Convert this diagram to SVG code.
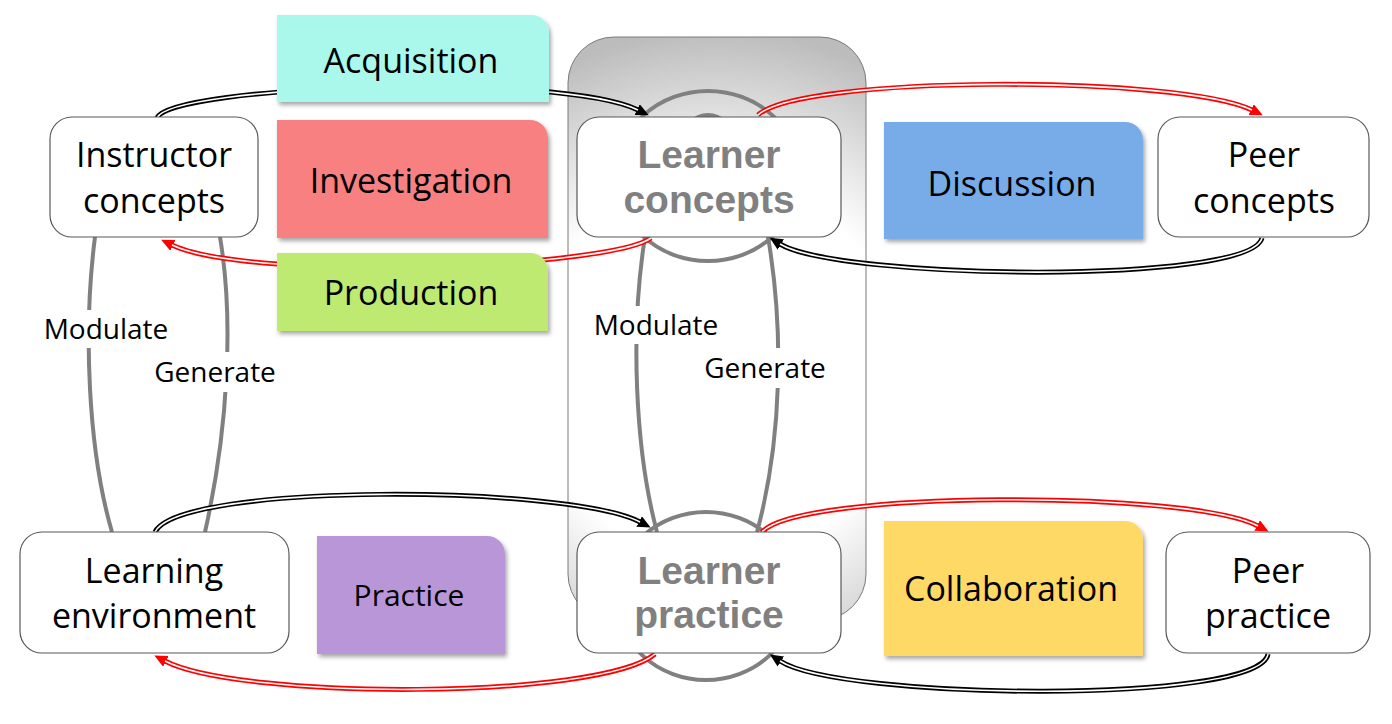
<svg xmlns="http://www.w3.org/2000/svg" width="1392" height="724" viewBox="0 0 1392 724">
<style>
.node rect{fill:#fff;stroke:#595959;stroke-width:1.2}
.t{font-family:"Open Sans","Noto Sans",sans-serif;font-size:34px;fill:#000;text-anchor:middle}
.tb{font-family:"Liberation Sans",Arial,sans-serif;font-size:39px;font-weight:bold;fill:#808080;text-anchor:middle}
.lab{font-family:"Open Sans","Noto Sans",sans-serif;font-size:28px;fill:#000;text-anchor:middle}
.gray{fill:none;stroke:#808080;stroke-width:4}
.outk{fill:none;stroke:#000;stroke-width:5;marker-end:url(#ak)}
.outr{fill:none;stroke:#f00;stroke-width:5;marker-end:url(#ar)}
.in{fill:none;stroke:#fff;stroke-width:1.6}
</style>
<defs>
<radialGradient id="bg" gradientUnits="userSpaceOnUse" cx="717" cy="370" r="340">
<stop offset="0" stop-color="#ffffff"/>
<stop offset="0.55" stop-color="#ffffff"/>
<stop offset="1" stop-color="#bcbcbc"/>
</radialGradient>
<filter id="sh" x="-10%" y="-10%" width="125%" height="130%">
<feDropShadow dx="2" dy="3" stdDeviation="2" flood-color="#000" flood-opacity="0.35"/>
</filter>
<marker id="ak" markerUnits="userSpaceOnUse" viewBox="0 -6 13 12" markerWidth="13" markerHeight="12" refX="1" refY="0" orient="auto">
<path d="M0,-6 L13,0 L0,6 z" fill="#000"/>
</marker>
<marker id="ar" markerUnits="userSpaceOnUse" viewBox="0 -6 13 12" markerWidth="13" markerHeight="12" refX="1" refY="0" orient="auto">
<path d="M0,-6 L13,0 L0,6 z" fill="#f00"/>
</marker>
</defs>
<rect width="1392" height="724" fill="#fff"/>
<g id="learner-group">
<rect x="568" y="37" width="298" height="583" rx="46" fill="url(#bg)" stroke="#7a7a7a" stroke-width="1"/>
<ellipse cx="708" cy="176" rx="92" ry="85" class="gray"/>
<circle cx="708" cy="139" r="24" class="gray"/>
<ellipse cx="706" cy="596" rx="90" ry="84" class="gray"/>
</g>
<g id="connectors">
<path class="gray" d="M95,237 C83,330 88,450 112,532"/>
<path class="gray" d="M220,237 C234,320 228,430 205,532"/>
<path class="gray" d="M645,237 C630,330 635,450 657,532"/>
<path class="gray" d="M768,237 C784,330 782,440 757,532"/>
<path class="outk" d="M157,118 C170,85 560,72 638,110"/>
<path class="in" d="M157,118 C170,85 560,72 638,110"/>
<path class="outr" d="M651,238 C610,268 250,282 172,245"/>
<path class="in" d="M651,238 C610,268 250,282 172,245"/>
<path class="outr" d="M758,115 C800,75 1180,75 1252,110"/>
<path class="in" d="M758,115 C800,75 1180,75 1252,110"/>
<path class="outk" d="M1262,238 C1250,285 840,280 780,244"/>
<path class="in" d="M1262,238 C1250,285 840,280 780,244"/>
<path class="outk" d="M155,532 C180,482 570,485 640,522"/>
<path class="in" d="M155,532 C180,482 570,485 640,522"/>
<path class="outr" d="M655,654 C600,700 240,700 165,661"/>
<path class="in" d="M655,654 C600,700 240,700 165,661"/>
<path class="outr" d="M762,532 C800,490 1190,490 1258,526"/>
<path class="in" d="M762,532 C800,490 1190,490 1258,526"/>
<path class="outk" d="M1268,654 C1260,705 840,700 780,661"/>
<path class="in" d="M1268,654 C1260,705 840,700 780,661"/>
</g>
<g id="acquisition">
<path d="M277,15 H531 A18,18 0 0 1 549,33 V102 H277 Z" fill="#aaf7ec" filter="url(#sh)"/>
<text class="t" x="411" y="73">Acquisition</text>
</g>
<g id="investigation">
<path d="M277,120 H530 A18,18 0 0 1 548,138 V238 H277 Z" fill="#f88080" filter="url(#sh)"/>
<text class="t" x="411" y="193">Investigation</text>
</g>
<g id="production">
<path d="M277,253 H530 A18,18 0 0 1 548,271 V331 H277 Z" fill="#beea72" filter="url(#sh)"/>
<text class="t" x="411" y="305">Production</text>
</g>
<g id="discussion">
<path d="M884,122 H1125 A18,18 0 0 1 1143,140 V239 H884 Z" fill="#77ace8" filter="url(#sh)"/>
<text class="t" x="1012" y="196">Discussion</text>
</g>
<g id="practice">
<path d="M317,536 H487 A18,18 0 0 1 505,554 V654 H317 Z" fill="#b996d8" filter="url(#sh)"/>
<text class="t" x="409" y="606" style="font-size:30px">Practice</text>
</g>
<g id="collaboration">
<path d="M884,521 H1125 A18,18 0 0 1 1143,539 V656 H884 Z" fill="#ffd966" filter="url(#sh)"/>
<text class="t" x="1011" y="601">Collaboration</text>
</g>
<g id="instructor-concepts" class="node">
<rect x="50" y="117" width="208" height="120" rx="22"/>
<text class="t" x="154" y="167">Instructor</text>
<text class="t" x="154" y="213">concepts</text>
</g>
<g id="learner-concepts" class="node">
<rect x="577" y="117" width="264" height="120" rx="22"/>
<text class="tb" x="709" y="168">Learner</text>
<text class="tb" x="709" y="213">concepts</text>
</g>
<g id="peer-concepts" class="node">
<rect x="1158" y="117" width="211" height="120" rx="22"/>
<text class="t" x="1264" y="167">Peer</text>
<text class="t" x="1264" y="213">concepts</text>
</g>
<g id="learning-environment" class="node">
<rect x="20" y="532" width="269" height="121" rx="22"/>
<text class="t" x="154" y="583">Learning</text>
<text class="t" x="154" y="628">environment</text>
</g>
<g id="learner-practice" class="node">
<rect x="577" y="532" width="264" height="121" rx="22"/>
<text class="tb" x="709" y="584">Learner</text>
<text class="tb" x="709" y="628">practice</text>
</g>
<g id="peer-practice" class="node">
<rect x="1166" y="532" width="204" height="121" rx="22"/>
<text class="t" x="1268" y="583">Peer</text>
<text class="t" x="1268" y="628">practice</text>
</g>
<g id="labels">
<rect x="42" y="310" width="128" height="38" fill="#fff"/>
<text class="lab" x="106" y="339">Modulate</text>
<rect x="154" y="352" width="122" height="40" fill="#fff"/>
<text class="lab" x="215" y="382">Generate</text>
<rect x="592" y="306" width="128" height="38" fill="#fff"/>
<text class="lab" x="656" y="335">Modulate</text>
<rect x="704" y="348" width="123" height="40" fill="#fff"/>
<text class="lab" x="765" y="378">Generate</text>
</g>
</svg>
